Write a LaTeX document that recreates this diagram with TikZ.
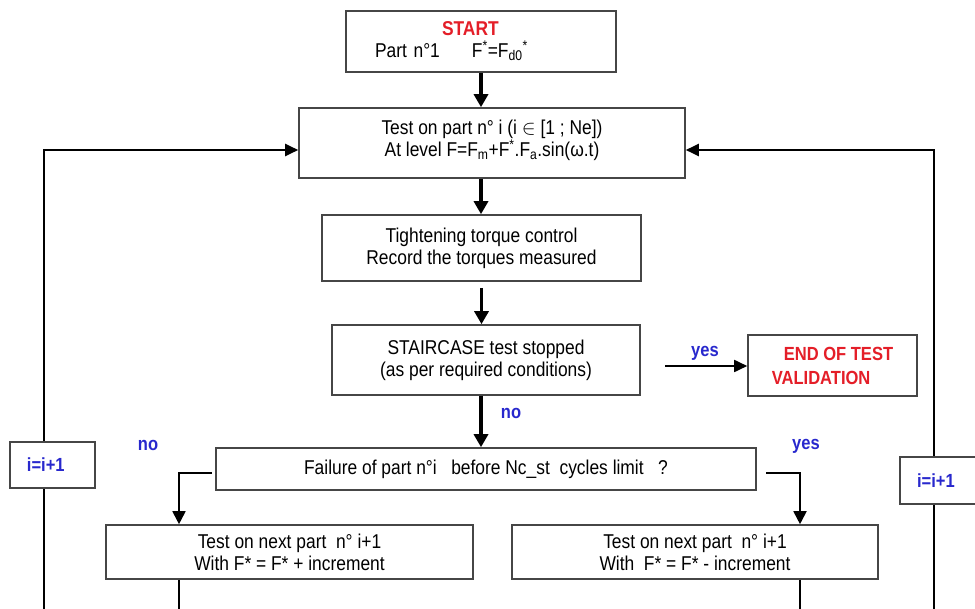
\documentclass[tikz,border=0pt]{standalone}
\usepackage{fontspec}
\setmainfont{Liberation Sans}[FakeStretch=0.87]
\usetikzlibrary{arrows.meta}
\definecolor{boxline}{RGB}{70,70,70}
\definecolor{redtxt}{RGB}{228,30,40}
\definecolor{bluetxt}{RGB}{40,40,205}
\begin{document}
\begin{tikzpicture}[x=1pt,y=-1pt,
  box/.style={draw=boxline, line width=1.6pt, fill=white, inner sep=0pt, align=center,
    font=\fontsize{20}{22}\selectfont},
  ibox/.style={draw=boxline, line width=1.6pt, fill=white, inner ysep=0pt, inner xsep=17pt,
    align=left, text=bluetxt, font=\bfseries\fontsize{19}{22}\selectfont},
  lbl/.style={text=bluetxt, font=\bfseries\fontsize{19}{22}\selectfont, inner sep=0pt},
  bigarrow/.style={line width=3.4pt, -{Triangle[length=13pt,width=14pt]}},
  midarrow/.style={line width=1.8pt, -{Triangle[length=13pt,width=12pt]}},
  looparrow/.style={line width=2.2pt, -{Triangle[length=13pt,width=12pt]}},
  thinarrow/.style={line width=1.8pt, -{Triangle[length=13pt,width=13pt]}},
  thinline/.style={line width=1.8pt}
]
\useasboundingbox (0,0) rectangle (975,609);
\clip (0,0) rectangle (975,609);

% main boxes
\node[box, align=left, text width=212pt, inner xsep=29pt, minimum height=61pt] (start) at (481,41.5)
  {\hspace*{67pt}{\bfseries\color{redtxt}START}\\Part n°1\hspace{32pt}F\textsuperscript{*}=F\textsubscript{d0}\textsuperscript{*}};
\node[box, minimum width=386pt, minimum height=70pt, text depth=9pt] (test) at (492,143)
  {Test on part n° i (i $\in$ [1 ; Ne])\\At level F=F\textsubscript{m}+F\textsuperscript{*}.F\textsubscript{a}.sin(ω.t)};
\node[box, minimum width=319pt, minimum height=66pt] (tight) at (481.5,248)
  {Tightening torque control\\Record the torques measured};
\node[box, minimum width=308pt, minimum height=70pt] (stair) at (486,360)
  {STAIRCASE test stopped\\(as per required conditions)};
\node[box, align=left, minimum width=169pt, minimum height=61pt, text=redtxt,
  font=\bfseries\fontsize{19}{24}\selectfont] (endbox) at (832.5,365.5)
  {\hspace*{12pt}END OF TEST\\VALIDATION};
\node[box, minimum width=540pt, minimum height=42pt] (fail) at (486,469)
  {Failure of part n°i\ \ \ before Nc\_st\ \ cycles limit\ \ \ ?};
\node[box, minimum width=367pt, minimum height=54pt] (bl) at (289.5,552)
  {Test on next part\ \ n° i+1\\With F* = F* + increment};
\node[box, minimum width=366pt, minimum height=54pt] (br) at (695,552)
  {Test on next part\ \ n° i+1\\With\ \ F* = F* - increment};

% main flow
\draw[bigarrow] (start.south) -- (start.south |- test.north);
\draw[bigarrow] (start.south |- test.south) -- (start.south |- tight.north);
\coordinate (tgap) at ([yshift=-6pt]tight.south);
\draw[bigarrow] (tgap) -- (tgap |- stair.north);
\draw[bigarrow] (start.south |- stair.south) -- (start.south |- fail.north);
\node[lbl] (nolbl) at (511,413) {no};

% yes to end
\coordinate (yesstart) at (665,366);
\draw[midarrow] (yesstart) -- (yesstart -| endbox.west);
\node[lbl] (yeslbl) at (705,353) {yes};

% branches
\coordinate (blx) at (179,620);
\coordinate (brx) at (800,620);
\coordinate (lfrom) at (212,473);
\draw[thinarrow] (lfrom) -| (blx |- bl.north);
\node[lbl] (nolbl2) at (148,445) {no};
\coordinate (rfrom) at (766,473);
\draw[thinarrow] (rfrom) -| (brx |- br.north);
\node[lbl] (yeslbl2) at (806,446) {yes};

\draw[thinline] (blx |- bl.south) -- (blx);
\draw[thinline] (brx |- br.south) -- (brx);

% loops
\coordinate (lbot) at (44,620);
\coordinate (lpy) at (44,150);
\coordinate (rbot) at (934,620);
\coordinate (rpy) at (934,150);
\draw[looparrow] (lbot) -- (lpy) -- (lpy -| test.west);
\draw[looparrow] (rbot) -- (rpy) -- (rpy -| test.east);

\node[ibox, text width=51pt, minimum height=46pt] (ileft) at (52.5,465) {i=i+1};
\node[ibox, text width=56pt, minimum height=47pt] (iright) at (945,480.5) {i=i+1};
\end{tikzpicture}
\end{document}
